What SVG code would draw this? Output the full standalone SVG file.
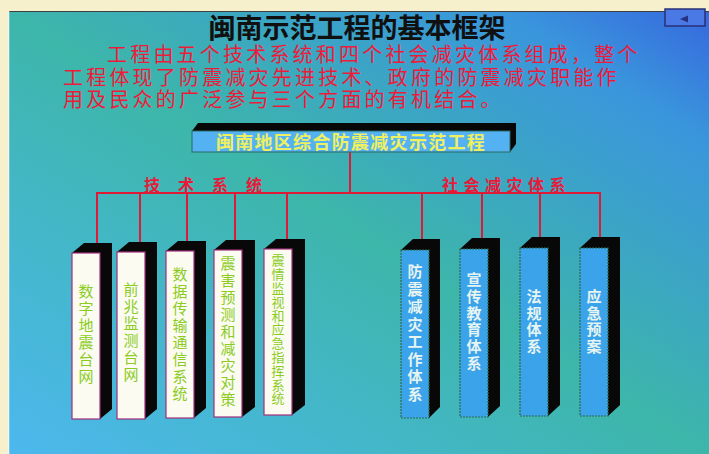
<svg xmlns="http://www.w3.org/2000/svg" width="709" height="454" viewBox="0 0 709 454">
<defs>
<linearGradient id="bg" x1="0" y1="1" x2="1" y2="0">
<stop offset="0" stop-color="#4cb8ee"/>
<stop offset="0.5" stop-color="#3db6aa"/>
<stop offset="0.85" stop-color="#3a96dc"/>
<stop offset="1" stop-color="#3668de"/>
</linearGradient>
<style>
.title{font-family:"Liberation Serif","Noto Sans CJK SC",sans-serif;font-size:27px;font-weight:bold;fill:#101010}
.red{font-family:"Liberation Sans","Noto Sans CJK SC",sans-serif;font-size:20px;fill:#ee1a3a;letter-spacing:3.2px}
.sub{font-family:"Liberation Sans","Noto Sans CJK SC",sans-serif;font-size:16px;font-weight:bold;fill:#e81a3a}
.conn line{stroke:#e01a36;stroke-width:2}
.shade{fill:#080808}
.wcol{fill:#fbfbf2;stroke:#a0307a;stroke-width:1.2}
.bcol{fill:#3ba3ea;stroke:#2c6a4c;stroke-width:1.2;stroke-dasharray:2 1}
.wt{font-family:"Noto Sans CJK SC","Noto Sans",sans-serif;font-size:15px;fill:#8ccc1e;writing-mode:vertical-rl;letter-spacing:2px}
.bt{font-family:"Noto Sans CJK SC","Noto Sans",sans-serif;font-size:15px;fill:#e6f4f2;writing-mode:vertical-rl;font-weight:bold}
.top{fill:#55b2f2;stroke:#2a6a60;stroke-width:1}
.topt{font-family:"Noto Sans CJK SC","Noto Sans",sans-serif;font-size:18px;fill:#eef060;text-anchor:middle;letter-spacing:1.3px;font-weight:bold}
</style>
</defs>
<rect x="0" y="0" width="709" height="454" fill="#f6f1cc"/>
<rect x="8" y="11" width="701" height="443" fill="url(#bg)"/>
<line x1="8" y1="11.5" x2="709" y2="11.5" stroke="#404040" stroke-width="1"/>
<line x1="8.5" y1="11" x2="8.5" y2="454" stroke="#f4f4f0" stroke-width="1.5"/>
<g id="button">
<rect x="665" y="9" width="40" height="17" fill="#4a78e4" stroke="#28307a" stroke-width="1.5"/>
<polygon points="680,19 688,15.5 688,22.5" fill="#283080"/>
</g>
<text class="title" x="357" y="38" text-anchor="middle">闽南示范工程的基本框架</text>
<text class="red"><tspan x="107" y="62">工程由五个技术系统和四个社会减灾体系组成，整个</tspan><tspan x="63" y="85">工程体现了防震减灾先进技术、政府的防震减灾职能作</tspan><tspan x="63" y="107">用及民众的广泛参与三个方面的有机结合。</tspan></text>
<g class="conn">
<line x1="350" y1="152" x2="350" y2="193"/>
<line x1="96" y1="193" x2="601" y2="193"/>
<line x1="97" y1="193" x2="97" y2="243"/>
<line x1="140" y1="193" x2="140" y2="242"/>
<line x1="187" y1="193" x2="187" y2="241"/>
<line x1="235" y1="193" x2="235" y2="240"/>
<line x1="287" y1="193" x2="287" y2="239"/>
<line x1="422" y1="193" x2="422" y2="239"/>
<line x1="482" y1="193" x2="482" y2="238"/>
<line x1="540" y1="193" x2="540" y2="237"/>
<line x1="600" y1="193" x2="600" y2="237"/>
</g>
<text class="sub" x="144" y="191" letter-spacing="18">技术系统</text>
<text class="sub" x="442" y="191" letter-spacing="5.5">社会减灾体系</text>
<g id="root">
<polygon class="shade" points="192,131 198,123 516,123 516,144 510,152"/>
<rect class="top" x="192" y="131" width="318" height="21"/>
<text class="topt" x="351" y="148.5">闽南地区综合防震减灾示范工程</text>
</g>
<g id="n1">
<polygon class="shade" points="72,253 84,243 112,243 112,409 100,419"/>
<rect class="wcol" x="72" y="253" width="28" height="166"/>
<text class="wt" x="86" y="284">数字地震台网</text>
</g>
<g id="n2">
<polygon class="shade" points="117,252 129,242 157,242 157,409 145,419"/>
<rect class="wcol" x="117" y="252" width="28" height="167"/>
<text class="wt" x="131" y="282">前兆监测台网</text>
</g>
<g id="n3">
<polygon class="shade" points="166,251 178,241 206,241 206,408 194,418"/>
<rect class="wcol" x="166" y="251" width="28" height="167"/>
<text class="wt" x="180" y="267">数据传输通信系统</text>
</g>
<g id="n4">
<polygon class="shade" points="214,250 226,240 255,240 255,407 242,417"/>
<rect class="wcol" x="214" y="250" width="28" height="167"/>
<text class="wt" x="228" y="256" letter-spacing="2.2">震害预测和减灾对策</text>
</g>
<g id="n5">
<polygon class="shade" points="264,249 276,239 305,239 305,405 292,415"/>
<rect class="wcol" x="264" y="249" width="28" height="166"/>
<text class="wt" x="278" y="254" style="font-size:13px;letter-spacing:0.8px">震情监视和应急指挥系统</text>
</g>
<g id="n6">
<polygon class="shade" points="401,250 413,239 440,239 440,407 429,418"/>
<rect class="bcol" x="401" y="250" width="28" height="168"/>
<text class="bt" x="415" y="264" letter-spacing="2.5">防震减灾工作体系</text>
</g>
<g id="n7">
<polygon class="shade" points="460,249 472,238 500,238 500,406 488,417"/>
<rect class="bcol" x="460" y="249" width="28" height="168"/>
<text class="bt" x="474" y="272" letter-spacing="1.7">宣传教育体系</text>
</g>
<g id="n8">
<polygon class="shade" points="520,248 532,237 560,237 560,405 548,416"/>
<rect class="bcol" x="520" y="248" width="28" height="168"/>
<text class="bt" x="534" y="289" letter-spacing="1.5">法规体系</text>
</g>
<g id="n9">
<polygon class="shade" points="580,248 592,237 620,237 620,405 608,416"/>
<rect class="bcol" x="580" y="248" width="28" height="168"/>
<text class="bt" x="594" y="289" letter-spacing="1.5">应急预案</text>
</g>
</svg>
